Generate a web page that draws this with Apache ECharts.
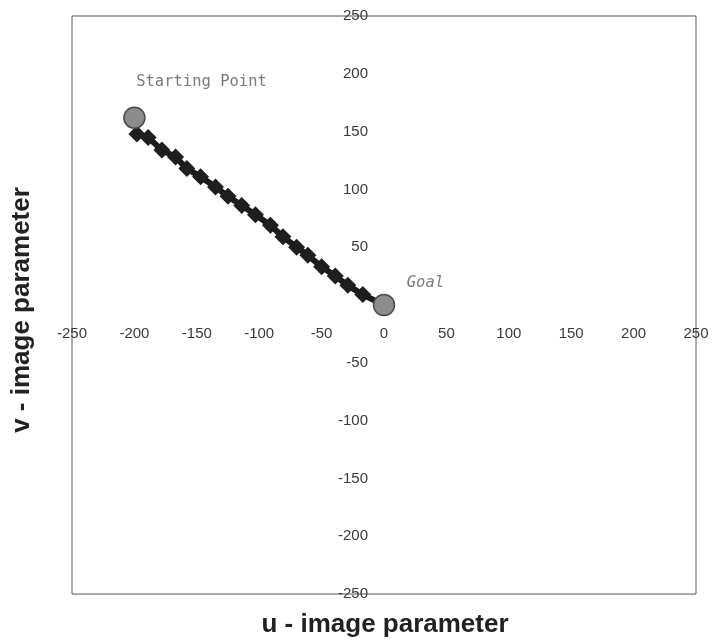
<!DOCTYPE html>
<html>
<head>
<meta charset="utf-8">
<script src="https://cdn.jsdelivr.net/npm/echarts@6/dist/echarts.min.js"></script>
<style>html,body{margin:0;padding:0;background:#fff;}#c{width:712px;height:644px;}</style>
</head>
<body>
<div id="c"></div>
<script>
// trajectory (u, v image parameters)
const pathU = [-198, -189, -178, -167, -158, -147, -135, -125, -114, -103, -91, -81, -70, -61, -50, -39, -29, -17, 0];
const pathV = [148, 145, 134, 128, 118, 111, 102, 94, 86, 78, 69, 59, 50, 43, 33, 25, 17, 9, 0];
const startPoint = [-200, 162];
const goalPoint = [0, 0];
const pointNames = ['Starting Point', 'Goal'];
const axisMin = -250, axisMax = 250, axisStep = 50;
const xTitle = 'u - image parameter';
const yTitle = 'v - image parameter';

const gridBox = {left: 72, right: 16, top: 16, bottom: 50};
const W = 712, H = 644;
const plotW = W - gridBox.left - gridBox.right;
const plotH = H - gridBox.top - gridBox.bottom;

const chart = echarts.init(document.getElementById('c'), null, {renderer: 'canvas'});
const labelFont = {fontFamily: 'Liberation Sans, Arial, sans-serif', fontSize: 15, color: '#3a3a3a'};
chart.setOption({
  animation: false,
  backgroundColor: '#fff',
  grid: Object.assign({show: true, borderColor: '#555', borderWidth: 1, backgroundColor: 'transparent'}, gridBox),
  xAxis: {
    type: 'value', min: axisMin, max: axisMax, interval: axisStep,
    position: 'bottom', offset: -plotH / 2,
    axisLine: {show: false, onZero: false}, axisTick: {show: false}, splitLine: {show: false},
    axisLabel: Object.assign({margin: 21, showMinLabel: true, showMaxLabel: true}, labelFont)
  },
  yAxis: {
    type: 'value', min: axisMin, max: axisMax, interval: axisStep,
    position: 'left', offset: -plotW / 2,
    axisLine: {show: false, onZero: false}, axisTick: {show: false}, splitLine: {show: false},
    axisLabel: Object.assign({margin: 16, formatter: v => v === 0 ? '' : String(v)}, labelFont)
  },
  graphic: [
    {type: 'text', x: gridBox.left + plotW / 2 + 1, y: 612, style: {text: xTitle, font: 'bold 26px "Liberation Sans", Arial, sans-serif', fill: '#222', align: 'center', verticalAlign: 'top'}},
    {type: 'text', x: 9, y: 310, rotation: Math.PI / 2, style: {text: yTitle, font: 'bold 26px "Liberation Sans", Arial, sans-serif', fill: '#222', align: 'center', verticalAlign: 'top'}}
  ],
  series: [
    {
      type: 'line',
      data: pathU.map((u, i) => i === pathU.length - 1 ? {value: [u, pathV[i]], symbol: 'none'} : [u, pathV[i]]),
      symbol: 'diamond', symbolSize: 17,
      lineStyle: {color: '#1a1a1a', width: 6},
      itemStyle: {color: '#1e1e1e'},
      z: 2
    },
    {
      type: 'scatter',
      zlevel: 1,
      data: [
        {value: startPoint, name: pointNames[0], label: {position: [13, -33]}},
        {value: goalPoint, name: pointNames[1], label: {position: [34, -19], fontStyle: 'italic'}}
      ],
      symbol: 'circle', symbolSize: 21,
      itemStyle: {color: '#8c8c8c', borderColor: '#4a4a4a', borderWidth: 1.5, opacity: 1},
      label: {show: true, formatter: p => p.name, fontFamily: 'DejaVu Sans Mono, monospace', fontSize: 15.5, color: '#7a7a7a'},
      z: 3
    }
  ]
});
</script>
</body>
</html>
